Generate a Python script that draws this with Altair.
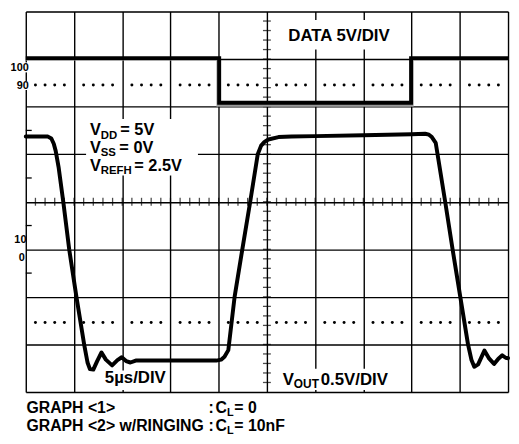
import altair as alt
import pandas as pd

# ---- data (x in time divisions 0-10, y in vertical divisions 0-8) ----
vout_x = [0, 0.46, 0.53, 0.58, 0.62, 0.68, 0.78, 0.90, 1.05, 1.21, 1.28, 1.33, 1.40, 1.48,
          1.57, 1.66, 1.79, 1.90, 1.99, 2.08, 2.17, 2.28, 2.5, 3.0, 3.5, 3.95, 4.05, 4.12,
          4.20, 4.33, 4.49, 4.65, 4.81, 4.88, 4.95, 5.03, 5.24, 5.51, 6.0, 7.0, 8.0, 8.28,
          8.36, 8.42, 8.50, 8.70, 8.85, 9.01, 9.17, 9.24, 9.30, 9.38, 9.51, 9.61, 9.71,
          9.80, 9.88, 9.95, 10.0]
vout_y = [5.37, 5.37, 5.33, 5.22, 5.07, 4.73, 3.98, 3.0, 2.0, 1.0, 0.62, 0.48, 0.47, 0.65,
          0.83, 0.68, 0.56, 0.67, 0.73, 0.65, 0.62, 0.66, 0.66, 0.66, 0.66, 0.66, 0.68, 0.74,
          0.88, 2.0, 3.0, 3.98, 5.0, 5.18, 5.26, 5.31, 5.36, 5.37, 5.38, 5.40, 5.42, 5.43,
          5.41, 5.36, 5.24, 3.98, 3.0, 2.0, 1.0, 0.68, 0.53, 0.58, 0.87, 0.70, 0.59,
          0.70, 0.77, 0.72, 0.71]

data_x = [0, 4.01, 4.01, 7.99, 7.99, 10]
data_y = [7.02, 7.02, 6.08, 6.08, 7.02, 7.02]
data2_x = [0, 3.985, 3.985, 8.01, 8.01, 10]
data2_y = [7.0, 7.0, 6.03, 6.03, 7.0, 7.0]

dot_levels = [6.455, 1.46]
minor_x = [i / 5 for i in range(1, 50)]
minor_y = [i / 5 for i in range(1, 40)]
left_ticks = [5.5, 4.5, 3.5, 2.5]

label_text = ["100", "90", "10", "0"]
label_x = [0.061, 0.061, 0.014, -0.02]
label_y = [6.82, 6.44, 3.2, 2.82]

ann_text = ["DATA 5V/DIV",
            "V", "DD", "= 5V",
            "V", "SS", "= 0V",
            "V", "REFH", "= 2.5V",
            "5µs/DIV",
            "V", "OUT", "0.5V/DIV",
            "GRAPH <1>", ":", "C", "L", "= 0",
            "GRAPH <2> w/RINGING", ":", "C", "L", "= 10nF"]
ann_x = [5.445,
         1.332, 1.555, 1.960,
         1.332, 1.555, 1.940,
         1.332, 1.555, 2.250,
         1.639,
         5.328, 5.559, 6.117,
         0.014, 3.791, 3.934, 4.170, 4.324,
         0.014, 3.791, 3.934, 4.170, 4.324]
ann_y = [7.385,
         5.395, 5.330, 5.395,
         5.026, 4.961, 5.026,
         4.656, 4.591, 4.656,
         0.185,
         0.15, 0.080, 0.15,
         -0.451, -0.451, -0.451, -0.515, -0.451,
         -0.810, -0.810, -0.810, -0.874, -0.810]
ann_size = [17,
            16.5, 11.5, 16.5,
            16.5, 11.5, 16.5,
            16.5, 11.5, 16.5,
            17,
            17, 12, 17,
            16, 16, 16, 11, 16,
            16, 16, 16, 11, 16]

box_x = [5.37, 1.25, 1.58, 5.27, -0.36, -0.36]
box_x2 = [7.54, 3.57, 2.95, 7.60, 0.07, 0.07]
box_y = [7.20, 4.55, 0.04, 0.04, 6.72, 6.35]
box_y2 = [7.82, 5.74, 0.45, 0.49, 6.93, 6.54]

# ---- tables ----
vout = pd.DataFrame({"x": vout_x, "y": vout_y, "i": range(len(vout_x))})
dat = pd.DataFrame({"x": data_x, "y": data_y, "i": range(len(data_x))})
dat2 = pd.DataFrame({"x": data2_x, "y": data2_y, "i": range(len(data2_x))})
dots = pd.DataFrame([{"x": x, "y": y} for y in dot_levels for x in minor_x if round(x * 5) % 5 != 0])
hticks = pd.DataFrame({"x": minor_x})
vticks = pd.DataFrame({"y": minor_y})
lticks = pd.DataFrame({"y": left_ticks})
labels = pd.DataFrame({"t": label_text, "x": label_x, "y": label_y})
ann = pd.DataFrame({"t": ann_text, "x": ann_x, "y": ann_y, "s": ann_size})
boxes = pd.DataFrame({"x": box_x, "x2": box_x2, "y": box_y, "y2": box_y2})

FONT = "Liberation Sans, Arial, sans-serif"
xs = alt.Scale(domain=[0, 10], nice=False, zero=False)
ys = alt.Scale(domain=[0, 8], nice=False, zero=False)
xax = alt.Axis(values=list(range(11)), grid=True, gridColor="#000", gridWidth=1.4, gridOpacity=1,
               labels=False, ticks=False, domain=False, title=None)
yax = alt.Axis(values=list(range(9)), grid=True, gridColor="#000", gridWidth=1.4, gridOpacity=1,
               labels=False, ticks=False, domain=False, title=None)


def X(f):
    return alt.X(f, scale=xs, axis=xax)


def Y(f):
    return alt.Y(f, scale=ys, axis=yax)


box_layer = alt.Chart(boxes).mark_rect(fill="white").encode(
    x=X("x:Q"), x2="x2:Q", y=Y("y:Q"), y2="y2:Q")

htick_layer = alt.Chart(hticks).mark_tick(orient="vertical", size=8, thickness=1.3, color="black").encode(
    x=X("x:Q"), y=alt.datum(4, scale=ys))
vtick_layer = alt.Chart(vticks).mark_tick(orient="horizontal", size=8, thickness=1.3, color="black").encode(
    y=Y("y:Q"), x=alt.datum(5, scale=xs))
ltick_layer = alt.Chart(lticks).mark_rule(color="black", strokeWidth=1.3).encode(
    y=Y("y:Q"), x=alt.value(0), x2=alt.value(6))

dot_layer = alt.Chart(dots).mark_circle(size=9, color="black", opacity=1).encode(
    x=X("x:Q"), y=Y("y:Q"))

data2_layer = alt.Chart(dat2).mark_line(color="#9a9a9a", strokeWidth=3, strokeCap="butt").encode(
    x=X("x:Q"), y=Y("y:Q"), order="i:Q")
data_layer = alt.Chart(dat).mark_line(color="black", strokeWidth=4, strokeCap="butt", strokeJoin="miter").encode(
    x=X("x:Q"), y=Y("y:Q"), order="i:Q")
vout_layer = alt.Chart(vout).mark_line(color="black", strokeWidth=4, strokeJoin="round", strokeCap="round").encode(
    x=X("x:Q"), y=Y("y:Q"), order="i:Q")

label_layer = alt.Chart(labels).mark_text(align="right", baseline="middle", font=FONT, fontWeight="bold",
                                          fontSize=11, color="black").encode(
    x=X("x:Q"), y=Y("y:Q"), text="t:N")
ann_layer = alt.Chart(ann).mark_text(align="left", baseline="alphabetic", font=FONT, fontWeight="bold",
                                     color="black").encode(
    x=X("x:Q"), y=Y("y:Q"), text="t:N", size=alt.Size("s:Q", scale=None))

chart = alt.layer(
    box_layer, htick_layer, vtick_layer, ltick_layer, dot_layer,
    data2_layer, data_layer, vout_layer, label_layer, ann_layer
).properties(
    width=488, height=385,
    padding={"left": 18, "top": 1, "right": 3, "bottom": 44},
    autosize=alt.AutoSizeParams(type="none"),
).configure_view(stroke="black", strokeWidth=2).configure(background="white")

chart.save("out.html", embed_options={"renderer": "svg", "actions": False})
